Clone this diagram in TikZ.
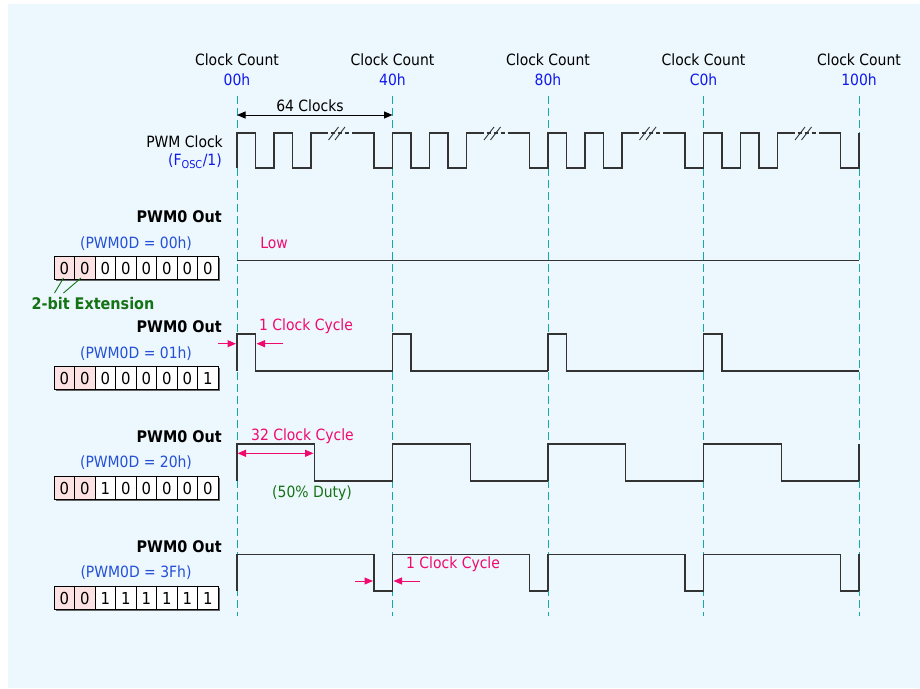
\documentclass[tikz,border=0pt]{standalone}
\usepackage{fontspec}
\setmainfont{DejaVu Sans Condensed}
\usetikzlibrary{arrows.meta}
\usetikzlibrary{positioning}

\definecolor{bgblue}{RGB}{237,247,254}
\definecolor{cntblue}{RGB}{15,25,235}
\definecolor{regblue}{RGB}{35,80,215}
\definecolor{annopink}{RGB}{240,10,110}
\definecolor{extgreen}{RGB}{20,115,20}
\definecolor{gridteal}{RGB}{20,170,170}
\definecolor{extpink}{RGB}{252,226,226}

\tikzset{
  txt/.style={font=\fontsize{15.5}{18}\selectfont, inner sep=0pt},
  btxt/.style={txt, font=\fontsize{16}{18}\selectfont\bfseries},
  dtxt/.style={txt, font=\fontsize{16.5}{18}\selectfont},
  wave/.style={draw=black!80, line width=1.2pt, line join=miter},
  gridline/.style={gridteal, line width=1pt, dash pattern=on 8pt off 4pt},
  anno/.style={annopink, line width=1pt, -{Triangle[length=8.5pt,width=7pt]}},
  span/.style={line width=1pt, {Triangle[length=8.5pt,width=7pt]}-{Triangle[length=8.5pt,width=7pt]}},
}

% register with 8 bits, first two are the extension
\newcommand{\pwmreg}[2]{%
  \fill[black!60] (55.5,#1+1.5) rectangle (219.8,#1+23.8);
  \foreach \b [count=\i from 0] in {#2} {
    \ifnum\i<2 \def\cellfill{extpink}\else\def\cellfill{white}\fi
    \draw[fill=\cellfill, line width=0.8pt] (54+20.5*\i,#1) rectangle ++(20.5,22.3);
    \node[dtxt] at (64.25+20.5*\i,#1+11.5) {\b};
  }
}

\begin{document}
\begin{tikzpicture}[x=1pt,y=-1pt]
\useasboundingbox (0,0) rectangle (920,688);
\fill[bgblue] (8,4) rectangle (920,688);

% clock count marks
\foreach \x/\c [count=\k] in {237/00h,392.5/40h,548/80h,703.5/C0h,859/100h} {
  \draw[gridline] (\x,96) -- (\x,616);
  \node[txt] (cc\k) at (\x,60) {Clock Count};
  \node[txt,text=cntblue] (cv\k) at (\x,80) {\c};
}

% PWM clock
\node[txt,anchor=east] (clk) at (223,142) {PWM Clock};
\node[txt,anchor=east,text=cntblue] (fosc) at (222,161) {(F\textsubscript{OSC}/1)};
\coordinate (s0) at (237,115);
\coordinate (s1) at (392.5,115);
\draw[span] (s0) -- (s1);
\node[txt] (n64) at (310,106) {64 Clocks};
\foreach \x in {237,392.5,548,703.5} {
  \draw[wave] (\x,168) -- (\x,133) -- (\x+18.5,133) -- (\x+18.5,168) -- (\x+37,168)
    -- (\x+37,133) -- (\x+55.5,133) -- (\x+55.5,168) -- (\x+74,168) -- (\x+74,133) -- (\x+87,133);
  \draw[wave, dash pattern=on 4pt off 3pt] (\x+87,133) -- (\x+116,133);
  \draw[wave] (\x+116,133) -- (\x+137,133) -- (\x+137,168) -- (\x+155.5,168) -- (\x+155.5,133);
  \draw[black!80, line width=0.9pt] (\x+91.5,140) -- (\x+101.5,127);
  \draw[black!80, line width=0.9pt] (\x+98,140) -- (\x+108,127);
}

% PWM0D = 00h
\node[btxt,anchor=east] (out1) at (222,216.7) {PWM0 Out};
\node[txt,text=regblue] (reg1) at (136,243.3) {(PWM0D = 00h)};
\pwmreg{256.7}{0,0,0,0,0,0,0,0}
\draw[wave] (237,260.7) -- (859,260.7);
\node[txt,text=annopink] (low) at (274,243) {Low};
\draw[extgreen, line width=0.9pt] (63.5,278) -- (54.5,293);
\draw[extgreen, line width=0.9pt] (81,278) -- (63.5,293);
\node[btxt,text=extgreen] (ext) at (93,304) {2-bit Extension};

% PWM0D = 01h
\node[btxt,anchor=east] (out2) at (222,326.7) {PWM0 Out};
\node[txt,text=regblue] (reg2) at (136,353.7) {(PWM0D = 01h)};
\pwmreg{366.7}{0,0,0,0,0,0,0,1}
\foreach \x in {237,392.5,548,703.5}
  \draw[wave] (\x,371) -- (\x,334) -- (\x+18.5,334) -- (\x+18.5,371) -- (\x+155.5,371);
\coordinate (a1) at (218,343.7);
\coordinate (a2) at (236,343.7);
\coordinate (a3) at (282.5,343.7);
\coordinate (a4) at (256.5,343.7);
\draw[anno] (a1) -- (a2);
\draw[anno] (a3) -- (a4);
\node[txt,text=annopink,anchor=west] (cyc1) at (259,326) {1 Clock Cycle};

% PWM0D = 20h
\node[btxt,anchor=east] (out3) at (222,436.7) {PWM0 Out};
\node[txt,text=regblue] (reg3) at (136,463) {(PWM0D = 20h)};
\pwmreg{476.7}{0,0,1,0,0,0,0,0}
\foreach \x in {237,392.5,548,703.5}
  \draw[wave] (\x,481) -- (\x,444) -- (\x+77.75,444) -- (\x+77.75,481) -- (\x+155.5,481);
\draw[wave] (859,481) -- (859,444);
\coordinate (h0) at (237.5,453.3);
\coordinate (h1) at (313.5,453.3);
\draw[span,annopink] (h0) -- (h1);
\node[txt,text=annopink,anchor=west] (cyc32) at (251,436) {32 Clock Cycle};
\node[txt,text=extgreen] (duty) at (312,493) {(50\% Duty)};

% PWM0D = 3Fh
\node[btxt,anchor=east] (out4) at (222,546.7) {PWM0 Out};
\node[txt,text=regblue] (reg4) at (136,573) {(PWM0D = 3Fh)};
\pwmreg{586.7}{0,0,1,1,1,1,1,1}
\foreach \x in {237,392.5,548,703.5}
  \draw[wave] (\x,591) -- (\x,554.3) -- (\x+137,554.3) -- (\x+137,591) -- (\x+155.5,591);
\draw[wave] (859,591) -- (859,554.3);
\coordinate (b1) at (355,581);
\coordinate (b2) at (373,581);
\coordinate (b3) at (420,581);
\coordinate (b4) at (393.5,581);
\draw[anno] (b1) -- (b2);
\draw[anno] (b3) -- (b4);
\node[txt,text=annopink,anchor=west] (cyc2) at (406,564) {1 Clock Cycle};

\end{tikzpicture}
\end{document}
